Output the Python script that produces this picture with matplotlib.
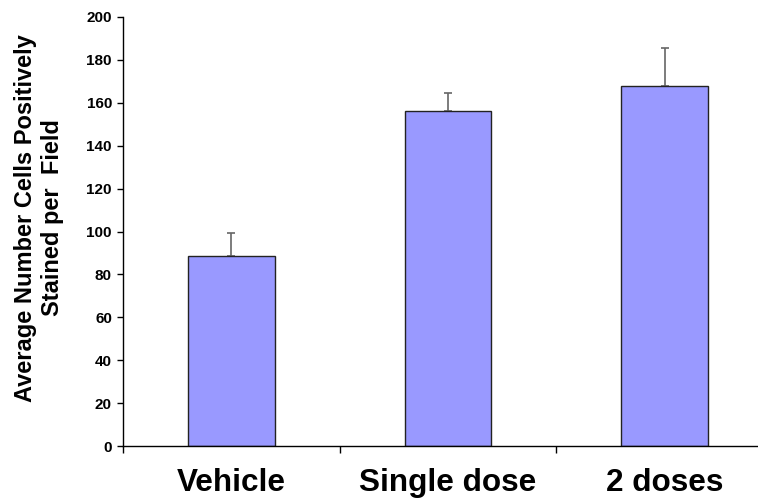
import matplotlib
matplotlib.use("Agg")
import matplotlib.pyplot as plt
import numpy as np

plt.rcParams['font.family'] = ['Liberation Sans', 'DejaVu Sans']
plt.rcParams['font.weight'] = 'bold'

groups = ["Vehicle", "Single dose", "2 doses"]
means = [88.5, 156, 168]
errs_up = [11, 8.5, 17.5]
y_ticks = [0, 20, 40, 60, 80, 100, 120, 140, 160, 180, 200]

fig = plt.figure(figsize=(7.58, 4.99), dpi=100)
ax = fig.add_axes([123 / 758, 53 / 499, 650 / 758, 429 / 499])

x = np.arange(len(groups))
ax.bar(x, means, width=0.4, color='#9999FF', edgecolor='#222222', linewidth=1, zorder=2)
eb = ax.errorbar(x, means, yerr=[np.zeros(len(means)), errs_up], fmt='none',
                 ecolor='#666666', elinewidth=1.2, capsize=3, capthick=1.2, zorder=1)
for cap in eb[1]:
    cap.set_color('black')

ax.set_xlim(-0.5, 2.5)
ax.set_ylim(0, 200)
ax.set_yticks(y_ticks)
ax.set_yticklabels([str(t) for t in y_ticks], fontsize=11, fontweight='bold')
ax.tick_params(axis='y', direction='out', length=4, width=1, pad=4)

ax.set_xticks(x)
ax.set_xticklabels(groups, fontsize=22.7, fontweight='bold')
ax.tick_params(axis='x', which='major', length=0, pad=16)
ax.set_xticks([-0.5, 0.5, 1.5, 2.5], minor=True)
ax.tick_params(axis='x', which='minor', direction='out', length=5, width=1)

for s in ['top', 'right']:
    ax.spines[s].set_visible(False)
for s in ['left', 'bottom']:
    ax.spines[s].set_linewidth(1)

fig.text(39 / 758, 1 - 218 / 499, "Average Number Cells Positively\nStained per  Field",
         rotation=90, ha='center', va='center', multialignment='center',
         fontsize=17, fontweight='bold', linespacing=1.2)

fig.savefig("out.png", dpi=100)
